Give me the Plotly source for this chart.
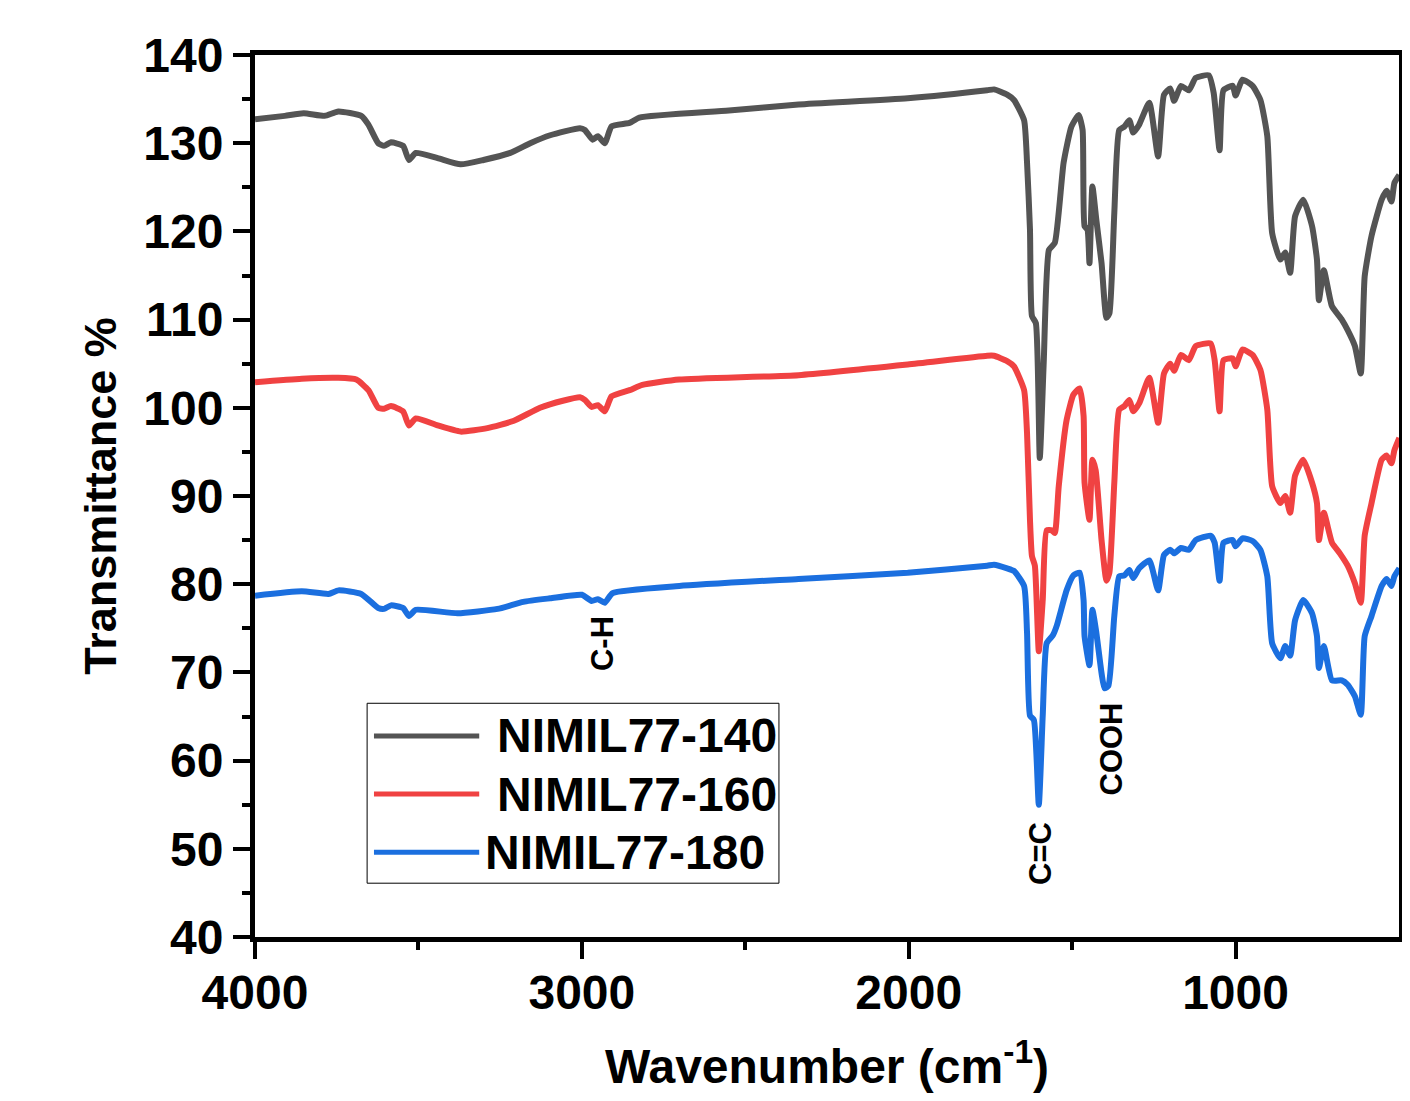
import plotly.graph_objects as go

# FTIR spectra
wn_140 = [4000, 3909, 3851, 3787, 3745, 3675, 3653, 3623, 3605, 3584, 3547, 3529, 3508, 3441,
          3371, 3301, 3219, 3158, 3097, 3006, 2991, 2967, 2951, 2930, 2909, 2854, 2824, 2550,
          2337, 2003, 1760, 1739, 1699, 1678, 1647, 1638, 1629, 1623, 1611, 1599, 1587, 1571,
          1553, 1526, 1502, 1480, 1468, 1462, 1453, 1447, 1438, 1426, 1410, 1395, 1386, 1371,
          1356, 1340, 1325, 1313, 1295, 1264, 1237, 1219, 1200, 1188, 1167, 1143, 1122, 1082,
          1067, 1049, 1037, 1009, 1000, 979, 948, 924, 903, 888, 863, 848, 833, 818, 793, 766,
          751, 745, 730, 705, 675, 657, 635, 617, 605, 584, 553, 538, 523, 514, 499]
t_140 = [132.7, 133.1, 133.4, 133.1, 133.6, 133.1, 132.1, 130.0, 129.7, 130.1, 129.7, 128.1,
         128.9, 128.3, 127.6, 128.1, 128.9, 130.0, 130.9, 131.7, 131.5, 130.4, 130.8, 130.0,
         131.9, 132.3, 132.9, 133.7, 134.4, 135.1, 136.0, 136.1, 135.5, 134.9, 132.6, 127.8,
         120.2, 110.4, 109.6, 94.3, 105.1, 117.9, 118.7, 127.8, 131.9, 133.2, 131.5, 120.6,
         120.2, 116.4, 125.1, 121.3, 116.4, 110.2, 110.7, 122.1, 131.5, 131.9, 132.6, 131.2,
         132.1, 134.6, 128.5, 135.5, 136.2, 134.8, 136.5, 136.0, 137.4, 137.7, 135.7, 129.2,
         136.0, 136.5, 135.4, 137.2, 136.5, 134.9, 130.8, 119.8, 116.8, 117.6, 115.3, 121.7,
         123.6, 120.6, 116.8, 112.2, 115.6, 111.5, 110.0, 108.8, 107.0, 103.9, 114.9, 119.5,
         123.6, 124.6, 123.4, 125.5, 126.4]

wn_160 = [4000, 3857, 3745, 3690, 3653, 3623, 3605, 3584, 3547, 3529, 3508, 3441, 3371, 3289,
          3210, 3128, 3058, 3006, 2991, 2970, 2951, 2930, 2909, 2854, 2815, 2702, 2337, 2003,
          1760, 1739, 1699, 1678, 1647, 1638, 1629, 1623, 1614, 1602, 1590, 1578, 1562, 1553,
          1541, 1517, 1496, 1477, 1465, 1462, 1447, 1438, 1428, 1410, 1395, 1386, 1371, 1356,
          1340, 1325, 1313, 1295, 1264, 1237, 1219, 1200, 1188, 1167, 1143, 1122, 1076, 1064,
          1049, 1037, 1009, 1000, 979, 948, 924, 903, 888, 863, 848, 833, 818, 793, 766, 751,
          745, 730, 705, 681, 657, 635, 617, 605, 584, 553, 538, 523, 514, 499]
t_160 = [102.9, 103.3, 103.4, 103.2, 102.0, 100.0, 99.9, 100.2, 99.6, 98.0, 98.8, 98.0, 97.3,
         97.7, 98.5, 100.0, 100.8, 101.2, 100.9, 100.1, 100.3, 99.6, 101.3, 102.0, 102.6, 103.2,
         103.7, 104.9, 105.9, 105.9, 105.3, 104.7, 102.0, 97.1, 87.3, 83.2, 82.1, 72.4, 78.2,
         86.1, 86.1, 85.8, 91.1, 98.6, 101.5, 102.2, 99.1, 91.5, 87.3, 94.1, 92.9, 85.0, 80.4,
         81.3, 91.5, 99.8, 100.2, 100.9, 99.6, 100.5, 103.4, 98.3, 103.9, 105.0, 104.2, 106.0,
         105.4, 107.0, 107.3, 105.4, 99.6, 105.4, 105.6, 104.7, 106.6, 106.0, 104.3, 99.8,
         91.1, 89.2, 90.0, 88.1, 92.3, 94.1, 91.5, 89.2, 85.0, 88.1, 84.7, 83.5, 82.1, 80.1,
         77.9, 85.5, 89.2, 94.1, 94.6, 93.7, 95.2, 96.6]

wn_180 = [4000, 3857, 3775, 3745, 3675, 3623, 3605, 3584, 3547, 3529, 3508, 3380, 3258, 3179,
          3097, 3000, 2970, 2951, 2930, 2906, 2702, 2337, 2003, 1760, 1739, 1699, 1678, 1647,
          1638, 1629, 1617, 1602, 1590, 1578, 1559, 1547, 1517, 1496, 1477, 1465, 1462, 1447,
          1438, 1426, 1410, 1401, 1389, 1371, 1356, 1340, 1325, 1313, 1295, 1264, 1237, 1219,
          1200, 1188, 1167, 1143, 1122, 1076, 1064, 1049, 1037, 1009, 1000, 979, 948, 924, 903,
          888, 863, 848, 833, 818, 793, 766, 751, 745, 730, 705, 675, 657, 635, 617, 605, 584,
          553, 538, 523, 514, 499]
t_180 = [78.7, 79.2, 78.9, 79.3, 78.9, 77.3, 77.2, 77.6, 77.3, 76.4, 77.1, 76.7, 77.2, 78.0,
         78.4, 78.8, 78.1, 78.3, 77.9, 79.0, 79.8, 80.6, 81.3, 82.1, 82.2, 81.8, 81.5, 79.8,
         74.5, 65.1, 64.6, 55.0, 65.1, 73.3, 74.2, 75.3, 79.3, 81.0, 81.3, 78.2, 74.1, 70.8,
         77.1, 74.5, 69.9, 68.2, 68.5, 76.4, 80.9, 81.0, 81.6, 80.7, 81.8, 82.7, 79.3, 83.3,
         83.9, 83.5, 84.1, 83.9, 85.0, 85.5, 84.7, 80.4, 84.7, 85.0, 84.3, 85.2, 84.9, 83.9,
         80.9, 73.3, 71.6, 73.0, 71.9, 75.9, 78.2, 76.7, 74.1, 70.5, 73.0, 69.1, 69.1, 68.6,
         67.3, 65.2, 74.1, 76.4, 79.8, 80.6, 79.8, 80.9, 81.8]

names = ["NIMIL77-140", "NIMIL77-160", "NIMIL77-180"]
colors = ["#545454", "#F04242", "#1B6FDF"]

peak_labels = ["C-H", "C=C", "COOH"]
peak_x = [2936, 1599, 1380]
peak_y = [73.3, 49.5, 61.3]

FONT = "Liberation Sans, Arial, sans-serif"

fig = go.Figure()

for wn, t, name, c in zip([wn_140, wn_160, wn_180], [t_140, t_160, t_180], names, colors):
    fig.add_trace(go.Scatter(
        x=wn, y=t, mode="lines", name=name,
        line=dict(color=c, width=6, shape="spline", smoothing=0.5),
    ))

for txt, px, py in zip(peak_labels, peak_x, peak_y):
    fig.add_annotation(
        x=px, y=py, text=txt, showarrow=False, textangle=-90,
        font=dict(family=FONT, size=31, color="black", weight="bold"),
    )

# hand drawn legend box (long line samples like the original)
leg_rows = [0.228, 0.162, 0.096]
leg_text_x = [0.210, 0.210, 0.199]
fig.add_shape(type="rect", xref="paper", yref="paper", x0=0.098, x1=0.458, y0=0.061, y1=0.265,
              line=dict(color="black", width=1), fillcolor="white", layer="above")
for name, c, ry, tx in zip(names, colors, leg_rows, leg_text_x):
    fig.add_shape(type="line", xref="paper", yref="paper", x0=0.104, x1=0.196, y0=ry, y1=ry,
                  line=dict(color=c, width=5), layer="above")
    fig.add_annotation(xref="paper", yref="paper", x=tx, y=ry, text=name, showarrow=False,
                       xanchor="left", yanchor="middle",
                       font=dict(family=FONT, size=48, color="black", weight="bold"))

axis_common = dict(
    showline=True, linewidth=5, linecolor="black", mirror=True,
    showgrid=False, zeroline=False, automargin=False,
    ticks="outside", ticklen=17, tickwidth=4, tickcolor="black",
    tickfont=dict(family=FONT, size=48, color="black", weight="bold"),
)

fig.update_xaxes(
    range=[4000, 500], tickvals=[4000, 3000, 2000, 1000], ticklabelstandoff=-8,
    minor=dict(ticks="outside", ticklen=8, tickwidth=4, tickcolor="black",
               tickvals=[3500, 2500, 1500]),
    title=dict(text="Wavenumber (cm<sup>-1</sup>)", standoff=43,
               font=dict(family=FONT, size=48, color="black", weight="bold")),
    **axis_common,
)
fig.update_yaxes(
    range=[40, 140], dtick=10,
    minor=dict(ticks="outside", ticklen=8, tickwidth=4, tickcolor="black", dtick=5),
    title=dict(text="Transmittance %", standoff=14,
               font=dict(family=FONT, size=45, color="black", weight="bold")),
    **axis_common,
)

# the page body adds an 8 px margin all round, so keep the figure inside the window
fig.update_layout(
    width=1394, height=1085,
    margin=dict(l=247, r=3, t=47, b=156),
    plot_bgcolor="white", paper_bgcolor="white",
    showlegend=False,
    font=dict(family=FONT),
)

fig.write_html("out.html")
